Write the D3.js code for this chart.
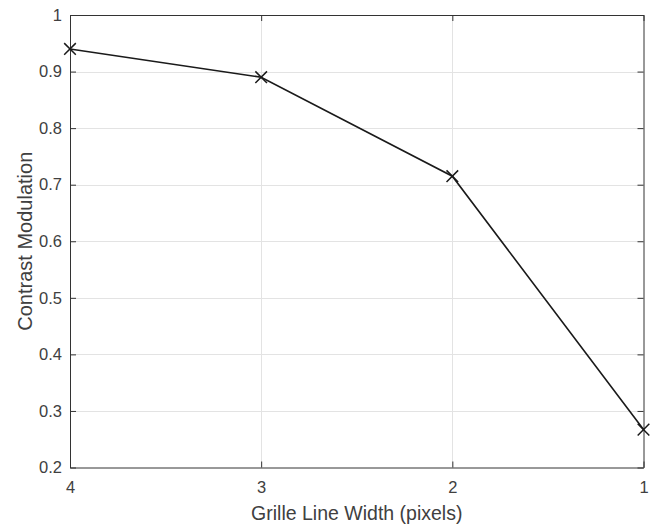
<!DOCTYPE html>
<html>
<head>
<meta charset="utf-8">
<script src="https://cdn.jsdelivr.net/npm/d3@7"></script>
<style>
  body { margin: 0; background: #fff; }
  text { font-family: "Liberation Sans", Arial, sans-serif; }
</style>
</head>
<body>
<script>
// data
var lineWidths = [4, 3, 2, 1];
var contrast = [0.940, 0.890, 0.715, 0.267];
var xTicks = [4, 3, 2, 1];
var yTicks = [0.2, 0.3, 0.4, 0.5, 0.6, 0.7, 0.8, 0.9, 1];

var W = 652, H = 525;
var margin = {top: 15, right: 8.5, bottom: 57.5, left: 70},
    width = W - margin.left - margin.right,
    height = H - margin.top - margin.bottom;

var axisColor = "#404040";

var x = d3.scaleLinear().domain([4, 1]).range([0, width]);
var y = d3.scaleLinear().domain([0.2, 1]).range([height, 0]);

var svg = d3.select("body").append("svg")
    .attr("width", W)
    .attr("height", H)
  .append("g")
    .attr("transform", "translate(" + margin.left + "," + margin.top + ")");

// grid
svg.append("g").selectAll("line")
    .data(xTicks.slice(1, -1))
    .enter().append("line")
    .attr("x1", function(d) { return Math.round(x(d)) + 0.5; })
    .attr("x2", function(d) { return Math.round(x(d)) + 0.5; })
    .attr("y1", 0).attr("y2", height)
    .attr("stroke", "#e3e3e3");
svg.append("g").selectAll("line")
    .data(yTicks.slice(1, -1))
    .enter().append("line")
    .attr("y1", function(d) { return Math.round(y(d)) + 0.5; })
    .attr("y2", function(d) { return Math.round(y(d)) + 0.5; })
    .attr("x1", 0).attr("x2", width)
    .attr("stroke", "#e3e3e3");

// axes, ticks pointing inward on all sides
function style(g) {
  g.select(".domain").attr("stroke", "#333");
  g.selectAll(".tick line").attr("stroke", "#333");
  g.selectAll(".tick text")
      .attr("fill", axisColor)
      .style("font-size", "16.5px")
      .style("font-family", "'Liberation Sans', Arial, sans-serif");
}

svg.append("g")
    .attr("transform", "translate(0," + height + ")")
    .call(d3.axisBottom(x).tickValues(xTicks).tickFormat(d3.format("d"))
      .tickSizeInner(-6).tickSizeOuter(0).tickPadding(14))
    .call(style);
svg.append("g")
    .call(d3.axisTop(x).tickValues(xTicks).tickFormat("")
      .tickSizeInner(-6).tickSizeOuter(0))
    .call(style);
svg.append("g")
    .call(d3.axisLeft(y).tickValues(yTicks).tickFormat(d3.format("~g"))
      .tickSizeInner(-6).tickSizeOuter(0).tickPadding(8))
    .call(style);
svg.append("g")
    .attr("transform", "translate(" + width + ",0)")
    .call(d3.axisRight(y).tickValues(yTicks).tickFormat("")
      .tickSizeInner(-6).tickSizeOuter(0))
    .call(style);

// line
var data = lineWidths.map(function(d, i) { return {x: d, y: contrast[i]}; });

svg.append("path")
    .datum(data)
    .attr("fill", "none")
    .attr("stroke", "#1a1a1a")
    .attr("stroke-width", 1.6)
    .attr("d", d3.line().x(function(d) { return x(d.x); }).y(function(d) { return y(d.y); }));

svg.selectAll(".point")
    .data(data)
    .enter().append("path")
    .attr("class", "point")
    .attr("d", d3.symbol().type(d3.symbolTimes).size(90))
    .attr("fill", "none")
    .attr("stroke", "#1a1a1a")
    .attr("stroke-width", 1.5)
    .attr("transform", function(d) { return "translate(" + x(d.x) + "," + y(d.y) + ")"; });

// labels
svg.append("text")
    .attr("x", width / 2)
    .attr("y", height + 52.5)
    .attr("text-anchor", "middle")
    .attr("fill", axisColor)
    .style("font-size", "19.5px")
    .text("Grille Line Width (pixels)");

svg.append("text")
    .attr("transform", "translate(" + (32 - margin.left) + "," + (height / 2) + ") rotate(-90)")
    .attr("text-anchor", "middle")
    .attr("fill", axisColor)
    .style("font-size", "20px")
    .text("Contrast Modulation");
</script>
</body>
</html>
